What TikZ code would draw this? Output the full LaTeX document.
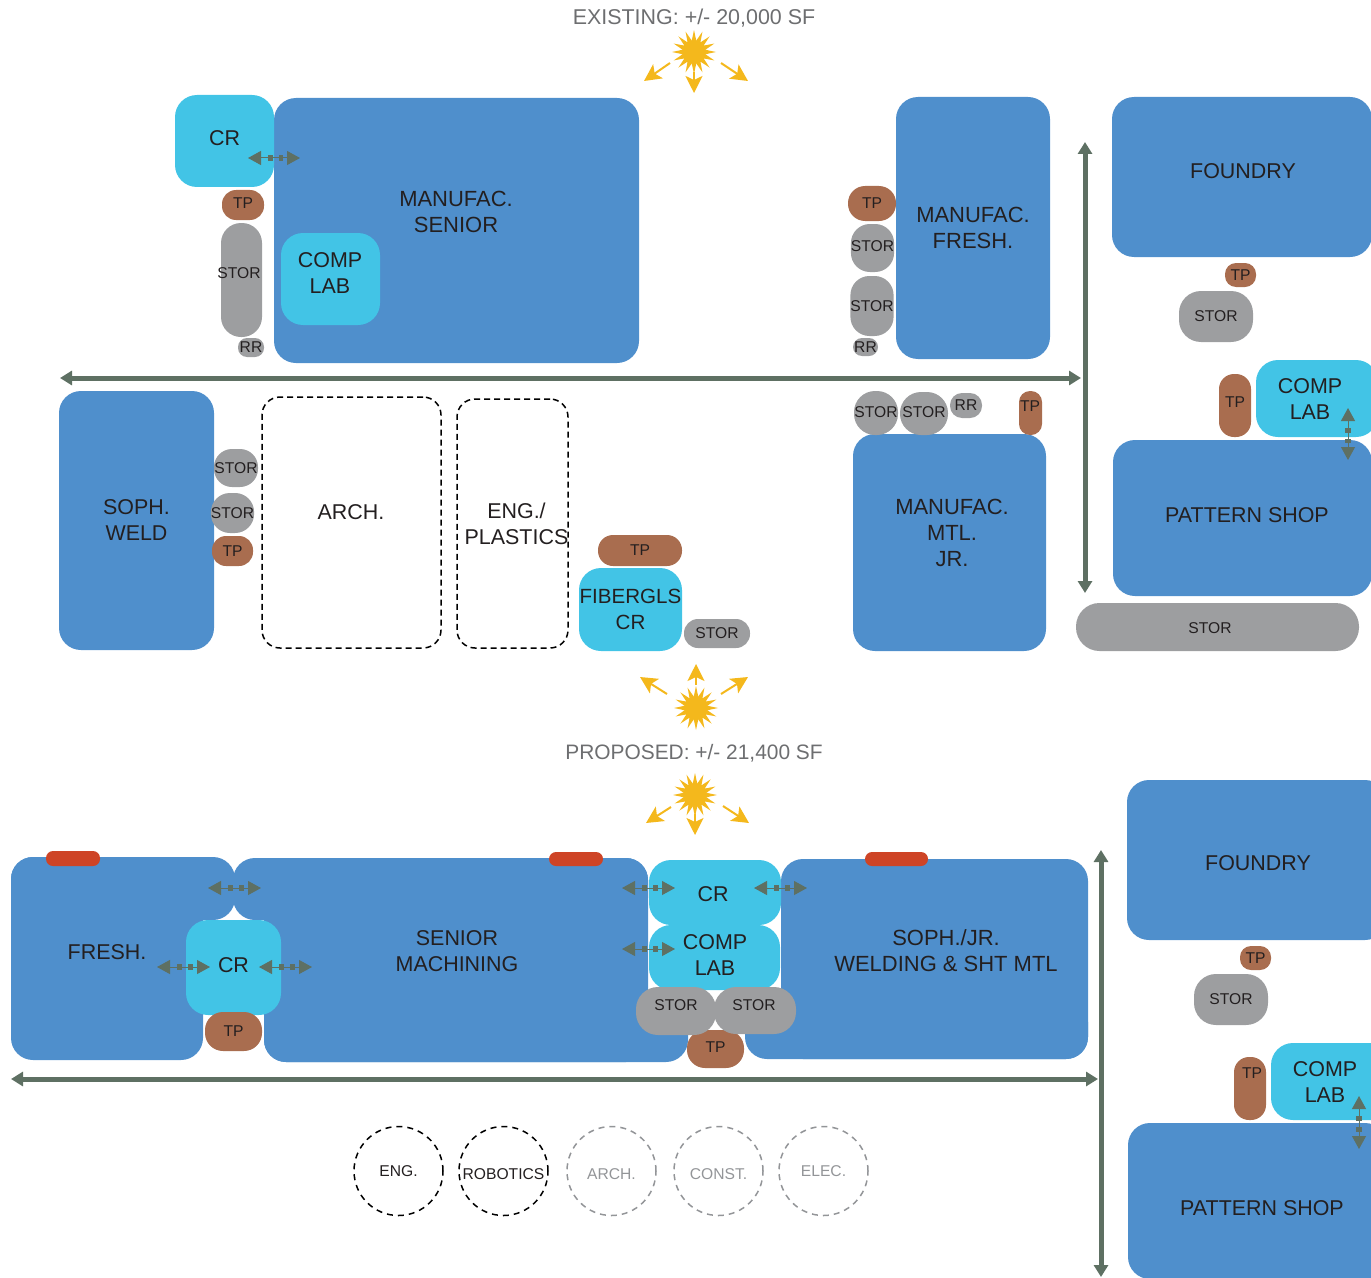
\documentclass[tikz,border=0pt]{standalone}
\usepackage{fontspec}
\setmainfont{Liberation Sans}
\usetikzlibrary{arrows.meta,shapes.geometric}
\definecolor{roomblue}{HTML}{4F8FCC}
\definecolor{labcyan}{HTML}{42C4E6}
\definecolor{storgray}{HTML}{9D9EA0}
\definecolor{tpbrown}{HTML}{A96D4F}
\definecolor{barred}{HTML}{CE4426}
\definecolor{axisgreen}{HTML}{5E7063}
\definecolor{sunyellow}{HTML}{F4B81C}
\definecolor{ink}{HTML}{231F20}
\definecolor{headgray}{HTML}{6D6E70}
\definecolor{softgray}{HTML}{939598}
\def\pxu{0.02cm}
\begin{document}
\begin{tikzpicture}[x=0.02cm, y=-0.02cm,
  bigtxt/.style={font=\fontsize{12.2}{14.8}\selectfont, text=ink, align=center, inner sep=0pt},
  widetxt/.style={bigtxt, font=\fontsize{12.5}{14.8}\selectfont},
  smalltxt/.style={font=\fontsize{8.9}{11}\selectfont, text=ink, align=center, inner sep=0pt},
  heading/.style={font=\fontsize{12.2}{15}\selectfont, text=headgray, inner sep=0pt},
  sized/.style 2 args={minimum width=#1*\pxu, minimum height=#2*\pxu},
  corner/.style={rounded corners=#1*\pxu},
  rise/.style={text depth=2*#1*\pxu},
  sink/.style={text height=6.4pt+2*#1*\pxu},
  room/.style={rectangle, corner=22, fill=roomblue, bigtxt},
  lab/.style={rectangle, corner=22, fill=labcyan, bigtxt},
  stor/.style={rectangle, corner=18, fill=storgray, smalltxt},
  tp/.style={rectangle, corner=14, fill=tpbrown, smalltxt},
  bar/.style={rectangle, corner=7, fill=barred, inner sep=0pt},
  tbd/.style={rectangle, corner=18, draw=black, line width=1.5*\pxu, dash pattern=on 6*\pxu off 4*\pxu, bigtxt},
  dept/.style={circle, minimum size=89*\pxu, draw=black, line width=1.5*\pxu, dash pattern=on 6*\pxu off 5*\pxu, smalltxt},
  deptsoft/.style={dept, draw=softgray, text=softgray},
  sun/.style={star, star points=16, star point ratio=1.9, minimum size=44*\pxu, inner sep=0pt, fill=sunyellow},
  ray/.style={draw=sunyellow, line width=2*\pxu, -{Stealth[length=17*\pxu, width=17*\pxu, inset=4*\pxu]}},
  axis/.style={draw=axisgreen, line width=5*\pxu, {Triangle[length=12*\pxu, width=14*\pxu]}-{Triangle[length=12*\pxu, width=14*\pxu]}},
  flow/.style={draw=axisgreen, line width=1*\pxu, {Triangle[length=13*\pxu, width=14*\pxu]}-{Triangle[length=13*\pxu, width=14*\pxu]},
    postaction={draw, -, line width=6*\pxu, dash pattern=on 5*\pxu off 6*\pxu, shorten <=20*\pxu, shorten >=17*\pxu}}]
  \useasboundingbox (0,0) rectangle (1371,1277);
  % Existing: headline and sun
  \node[heading] (existing) at (694,18) {EXISTING: +/- 20,000 SF};
  \node[sun] (suna) at (694,52) {};
  \coordinate (sunal) at (670,63); \coordinate (sunalt) at (644,81);
  \coordinate (sunad) at (694,72); \coordinate (sunadt) at (694,93);
  \coordinate (sunar) at (721,63); \coordinate (sunart) at (748,81);
  \draw[ray] (sunal)--(sunalt); \draw[ray] (sunad)--(sunadt); \draw[ray] (sunar)--(sunart);
  % Existing: north block
  \node[room, sized={365}{265}] (senior) at (456.5,230.5) {};
  \node[widetxt] (seniortxt) at (456,212) {MANUFAC.\\SENIOR};
  \node[lab, sized={99}{92}, rise=3] (crtop) at (224.5,141) {CR};
  \node[lab, sized={99}{92}] (complaba) at (330.5,279) {};
  \node[bigtxt] (complabatxt) at (330,273) {COMP\\LAB};
  \node[tp, sized={42}{30}, rise=2] (tpa) at (243,205) {TP};
  \node[stor, corner=20, sized={41}{114}] (stora) at (241.5,280) {};
  \node[smalltxt] (storatxt) at (239,273) {STOR};
  \node[stor, corner=9, sized={26}{19}] (rra) at (251,347.5) {RR};
  \coordinate (flowal) at (248,158); \coordinate (flowar) at (300,158);
  \draw[flow] (flowal)--(flowar);
  \node[room, widetxt, sized={154}{262}] (fresh) at (973,228) {MANUFAC.\\FRESH.};
  \node[tp, corner=17, sized={48}{35}] (tpb) at (872,203.5) {TP};
  \node[stor, corner=19, sized={39}{48}, rise=2] (storb) at (872.5,248) {STOR};
  \node[stor, corner=19, sized={38}{60}] (storc) at (872,306) {STOR};
  \node[stor, corner=9, sized={25}{18}] (rrb) at (865.5,347) {RR};
  % Existing: circulation
  \coordinate (axisaw) at (60,378); \coordinate (axisae) at (1081,378);
  \coordinate (axisan) at (1085,142); \coordinate (axisas) at (1085,593);
  \draw[axis] (axisaw)--(axisae); \draw[axis] (axisan)--(axisas);
  % Existing: east wing
  \node[room, sized={260}{160}] (foundrya) at (1242,177) {};
  \node[bigtxt] (foundryatxt) at (1243,171) {FOUNDRY};
  \node[tp, corner=11, sized={31}{24}] (tpc) at (1240.5,275) {TP};
  \node[stor, corner=22, sized={74}{51}] (stord) at (1216,316.5) {STOR};
  \node[tp, corner=15, sized={32}{63}, rise=3] (tpd) at (1235,405.5) {TP};
  \node[lab, sized={122}{77}] (complabb) at (1317,398.5) {};
  \node[bigtxt] (complabbtxt) at (1310,399) {COMP\\LAB};
  \node[room, sized={259}{156}] (patterna) at (1242.5,518) {};
  \node[bigtxt] (patternatxt) at (1247,515) {PATTERN SHOP};
  \coordinate (flowbn) at (1348,408); \coordinate (flowbs) at (1348,460);
  \draw[flow] (flowbn)--(flowbs);
  \node[stor, corner=23.5, sized={283}{48}] (store) at (1217.5,627) {};
  \node[smalltxt] (storetxt) at (1210,628) {STOR};
  % Existing: south block
  \node[room, sized={155}{259}] (weld) at (136.5,520.5) {SOPH.\\WELD};
  \node[stor, corner=18, sized={44}{38}] (storf) at (236,468) {STOR};
  \node[stor, corner=19, sized={41}{40}] (storg) at (232.5,513) {STOR};
  \node[tp, sized={41}{30}] (tpe) at (232.5,551) {TP};
  \node[tbd, sized={179}{251}] (archa) at (351.5,522.5) {};
  \node[bigtxt] (archatxt) at (351,512) {ARCH.};
  \node[tbd, sized={111}{249}] (plastics) at (512.5,523.5) {};
  \node[bigtxt] (plasticstxt) at (516.5,524) {ENG./\\PLASTICS};
  \node[tp, corner=15, sized={84}{31}] (tpf) at (640,550.5) {TP};
  \node[lab, font=\fontsize{11.7}{14.8}\selectfont, sized={103}{83}] (fiber) at (630.5,609.5) {FIBERGLS\\CR};
  \node[stor, corner=14, sized={66}{29}] (storh) at (717,633.5) {STOR};
  \node[room, sized={193}{217}] (mtl) at (949.5,542.5) {};
  \node[widetxt] (mtltxt) at (952,533) {MANUFAC.\\MTL.\\JR.};
  \node[stor, corner=21, sized={44}{44}, rise=1] (stori) at (876,413) {STOR};
  \node[stor, corner=21, sized={48}{43}, rise=1] (storj) at (924,413.5) {STOR};
  \node[stor, corner=12, sized={32}{25}] (rrc) at (966,405.5) {RR};
  \node[tp, corner=11, sized={23}{44}] (tpg) at (1030.5,413) {};
  \node[smalltxt] (tpgtxt) at (1030,406) {TP};
  % Proposed: sun and headline
  \node[sun] (sunb) at (696,708) {};
  \coordinate (sunbu) at (696,685); \coordinate (sunbut) at (696,664);
  \coordinate (sunbl) at (667,694); \coordinate (sunblt) at (640,677);
  \coordinate (sunbr) at (721,694); \coordinate (sunbrt) at (748,677);
  \draw[ray] (sunbu)--(sunbut); \draw[ray] (sunbl)--(sunblt); \draw[ray] (sunbr)--(sunbrt);
  \node[heading, font=\fontsize{11.9}{15}\selectfont] (proposed) at (694,753) {PROPOSED: +/- 21,400 SF};
  \node[sun] (sunc) at (695,795) {};
  \coordinate (suncl) at (671,807); \coordinate (sunclt) at (646,823);
  \coordinate (suncd) at (695,814); \coordinate (suncdt) at (695,835);
  \coordinate (suncr) at (723,806); \coordinate (suncrt) at (749,823);
  \draw[ray] (suncl)--(sunclt); \draw[ray] (suncd)--(suncdt); \draw[ray] (suncr)--(suncrt);
  % Proposed: main block
  \node[room, sized={192}{203}] (freshlow) at (107,958.5) {};
  \node[room, sized={224}{63}] (freshtop) at (123,888.5) {};
  \node[bigtxt] (freshtxt) at (107,952) {FRESH.};
  \node[room, sized={415}{62}] (machtop) at (440.5,889) {};
  \node[room, sized={384}{204}] (machmid) at (456,960) {};
  \node[room, sized={424}{62}] (machlow) at (476,1031) {};
  \node[bigtxt] (machtxt) at (457,951) {SENIOR\\MACHINING};
  \node[room, sized={307}{200}] (jrtop) at (934.5,959) {};
  \node[room, sized={343}{59}] (jrlow) at (916.5,1029.5) {};
  \node[widetxt] (jrtxt) at (946,951) {SOPH./JR.\\WELDING \& SHT MTL};
  \node[bar, sized={54}{15}] (bara) at (73,858.5) {};
  \node[bar, sized={54}{14}] (barb) at (576,859) {};
  \node[bar, sized={63}{14}] (barc) at (896.5,859) {};
  \node[lab, sized={95}{95}, rise=2] (crleft) at (233.5,967.5) {CR};
  \node[tp, corner=18, sized={57}{39}] (tph) at (233.5,1031.5) {TP};
  \node[lab, sized={132}{65}] (crmid) at (715,892.5) {};
  \node[bigtxt] (crmidtxt) at (713,894.5) {CR};
  \node[lab, sized={131}{65}] (complabc) at (714.5,957.5) {};
  \node[bigtxt] (complabctxt) at (715,955) {COMP\\LAB};
  \node[tp, corner=18, sized={57}{38}, rise=2] (tpi) at (715.5,1049) {TP};
  \node[stor, corner=22, sized={80}{48}] (stork) at (676,1011) {};
  \node[smalltxt] (storktxt) at (676,1005) {STOR};
  \node[stor, corner=22, sized={82}{47}] (storl) at (755,1010.5) {};
  \node[smalltxt] (storltxt) at (754,1005) {STOR};
  \coordinate (flowcl) at (208,888); \coordinate (flowcr) at (261,888);
  \coordinate (flowdl) at (157,967); \coordinate (flowdr) at (210,967);
  \coordinate (flowel) at (259,967); \coordinate (flower) at (312,967);
  \coordinate (flowfl) at (622,888); \coordinate (flowfr) at (675,888);
  \coordinate (flowgl) at (754,888); \coordinate (flowgr) at (807,888);
  \coordinate (flowhl) at (622,949); \coordinate (flowhr) at (675,949);
  \draw[flow] (flowcl)--(flowcr); \draw[flow] (flowdl)--(flowdr); \draw[flow] (flowel)--(flower);
  \draw[flow] (flowfl)--(flowfr); \draw[flow] (flowgl)--(flowgr); \draw[flow] (flowhl)--(flowhr);
  % Proposed: circulation
  \coordinate (axisbw) at (11,1079); \coordinate (axisbe) at (1098,1079);
  \coordinate (axisbn) at (1101,850); \coordinate (axisbs) at (1101,1277);
  \draw[axis] (axisbw)--(axisbe); \draw[axis] (axisbn)--(axisbs);
  % Proposed: east wing
  \node[room, sized={260}{160}] (foundryb) at (1257,860) {};
  \node[bigtxt] (foundrybtxt) at (1258,863) {FOUNDRY};
  \node[tp, corner=11, sized={31}{24}] (tpj) at (1255.5,958) {TP};
  \node[stor, corner=22, sized={74}{51}] (storm) at (1231,999.5) {STOR};
  \node[tp, corner=15, sized={32}{63}] (tpk) at (1250,1088.5) {};
  \node[smalltxt] (tpktxt) at (1252,1073) {TP};
  \node[lab, sized={122}{77}] (complabd) at (1332,1081.5) {};
  \node[bigtxt] (complabdtxt) at (1325,1082) {COMP\\LAB};
  \node[room, sized={259}{156}] (patternb) at (1257.5,1201) {};
  \node[bigtxt] (patternbtxt) at (1262,1208) {PATTERN SHOP};
  \coordinate (flowin) at (1359,1096); \coordinate (flowis) at (1359,1149);
  \draw[flow] (flowin)--(flowis);
  % Departments
  \node[dept] (eng) at (398.5,1171) {ENG.};
  \node[dept, sink=3] (robotics) at (503.5,1171) {ROBOTICS};
  \node[deptsoft, sink=3] (archb) at (611.5,1171) {ARCH.};
  \node[deptsoft, sink=3] (const) at (718.5,1171) {CONST.};
  \node[deptsoft] (elec) at (823.5,1171) {ELEC.};
\end{tikzpicture}
\end{document}
